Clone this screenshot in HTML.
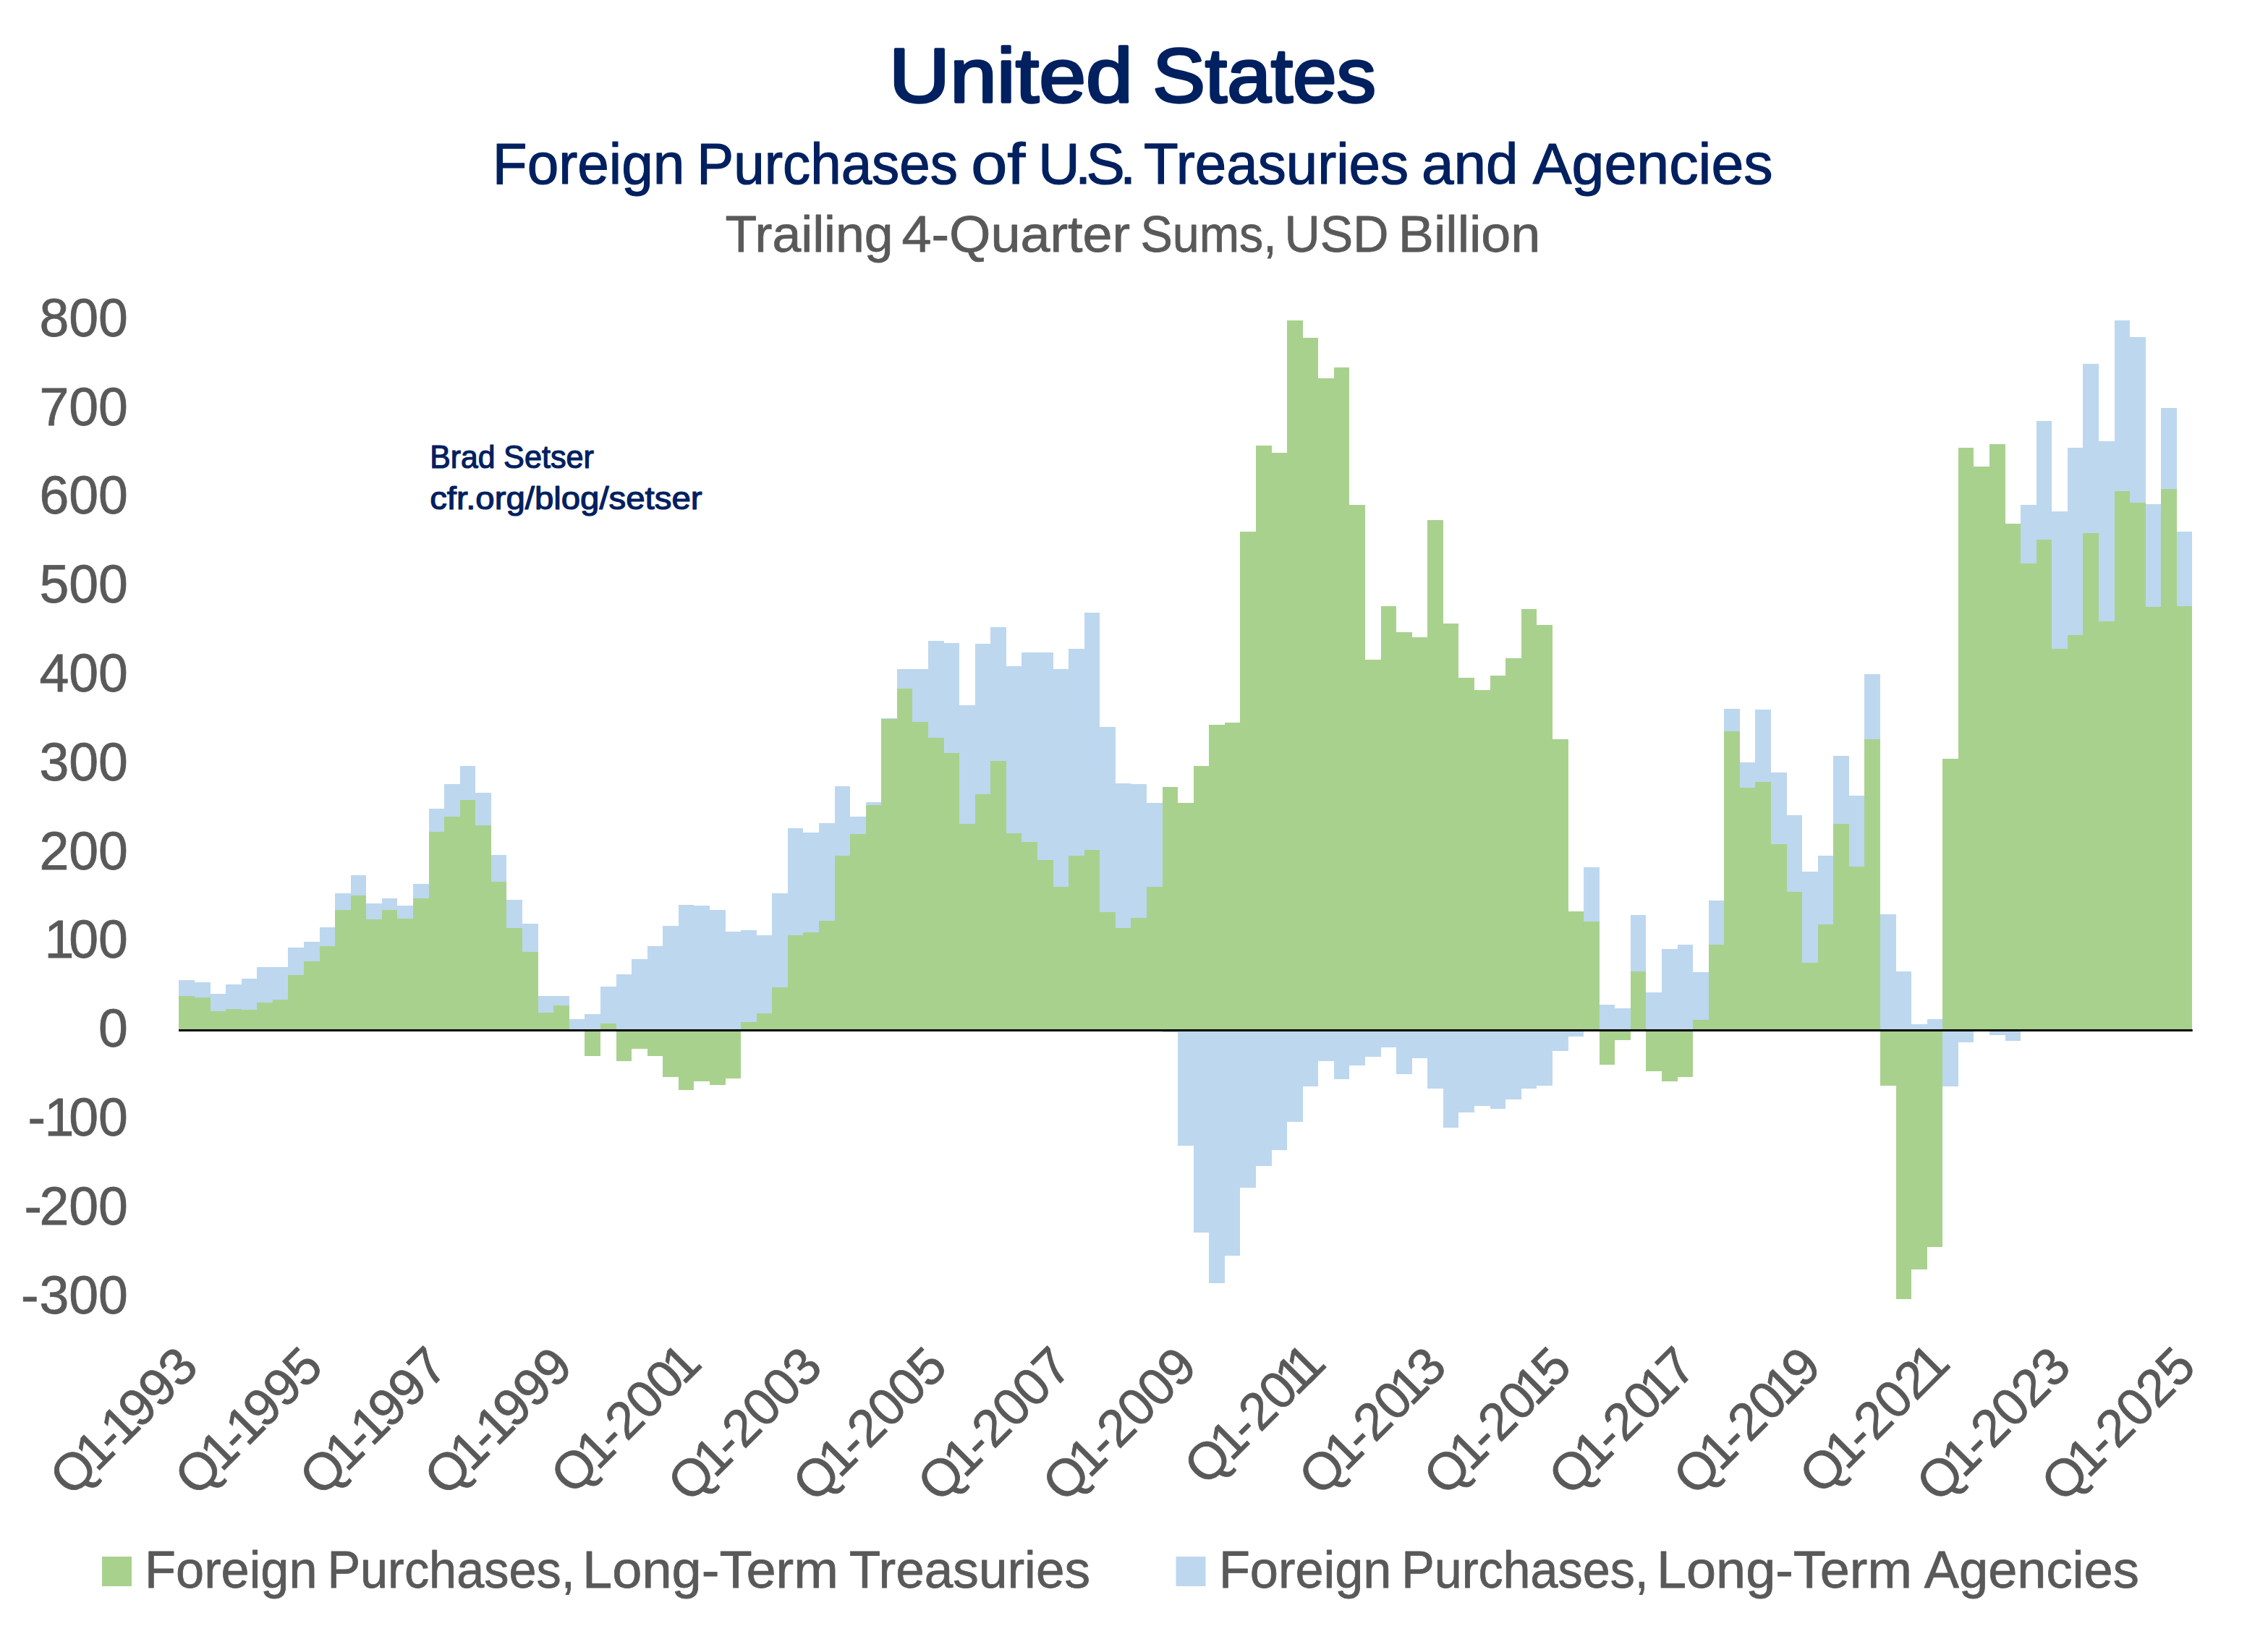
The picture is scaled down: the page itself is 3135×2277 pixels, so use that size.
<!DOCTYPE html>
<html lang="en"><head><meta charset="utf-8"><title>United States – Foreign Purchases of U.S. Treasuries and Agencies</title>
<style>html,body{margin:0;padding:0;background:#fff}body{width:3135px;height:2277px;overflow:hidden}svg{display:block}text{font-family:"Liberation Sans",Arial,sans-serif}</style></head><body>
<svg width="3135" height="2277" viewBox="0 0 3135 2277">
<rect width="3135" height="2277" fill="#fff"/>
<g fill="#A9D18E" shape-rendering="crispEdges">
<rect x="247" y="1376.9" width="22" height="47.6"/>
<rect x="269" y="1378.9" width="22" height="45.6"/>
<rect x="291" y="1397.9" width="21" height="26.6"/>
<rect x="312" y="1395" width="22" height="29.5"/>
<rect x="334" y="1395.9" width="21" height="28.6"/>
<rect x="355" y="1386" width="22" height="38.5"/>
<rect x="377" y="1381.8" width="21" height="42.7"/>
<rect x="398" y="1347.8" width="22" height="76.7"/>
<rect x="420" y="1328.9" width="22" height="95.6"/>
<rect x="442" y="1307.9" width="21" height="116.6"/>
<rect x="463" y="1257.9" width="22" height="166.6"/>
<rect x="485" y="1237.8" width="21" height="186.7"/>
<rect x="506" y="1270.9" width="22" height="153.6"/>
<rect x="528" y="1257.9" width="21" height="166.6"/>
<rect x="549" y="1270" width="22" height="154.5"/>
<rect x="571" y="1241.8" width="22" height="182.7"/>
<rect x="593" y="1149.7" width="21" height="274.8"/>
<rect x="614" y="1128.8" width="22" height="295.7"/>
<rect x="636" y="1106" width="21" height="318.5"/>
<rect x="657" y="1140.7" width="22" height="283.8"/>
<rect x="679" y="1218.9" width="21" height="205.6"/>
<rect x="700" y="1282.8" width="22" height="141.7"/>
<rect x="722" y="1315.8" width="22" height="108.7"/>
<rect x="744" y="1399.9" width="21" height="24.6"/>
<rect x="765" y="1389.9" width="22" height="34.6"/>
<rect x="808" y="1424.5" width="22" height="35.3"/>
<rect x="830" y="1415.2" width="22" height="9.3"/>
<rect x="852" y="1424.5" width="21" height="42.3"/>
<rect x="873" y="1424.5" width="22" height="25.4"/>
<rect x="895" y="1424.5" width="21" height="35.3"/>
<rect x="916" y="1424.5" width="22" height="64.4"/>
<rect x="938" y="1424.5" width="21" height="82.2"/>
<rect x="959" y="1424.5" width="22" height="70.4"/>
<rect x="981" y="1424.5" width="22" height="75.3"/>
<rect x="1003" y="1424.5" width="21" height="66.3"/>
<rect x="1024" y="1412.9" width="22" height="11.6"/>
<rect x="1046" y="1400.9" width="21" height="23.6"/>
<rect x="1067" y="1365" width="22" height="59.5"/>
<rect x="1089" y="1293.1" width="21" height="131.4"/>
<rect x="1110" y="1289" width="22" height="135.5"/>
<rect x="1132" y="1272.8" width="22" height="151.7"/>
<rect x="1154" y="1182.8" width="21" height="241.7"/>
<rect x="1175" y="1152.8" width="22" height="271.7"/>
<rect x="1197" y="1113.1" width="21" height="311.4"/>
<rect x="1218" y="993.8" width="22" height="430.7"/>
<rect x="1240" y="951.9" width="21" height="472.6"/>
<rect x="1261" y="997.9" width="22" height="426.6"/>
<rect x="1283" y="1020" width="22" height="404.5"/>
<rect x="1305" y="1041" width="21" height="383.5"/>
<rect x="1326" y="1138.8" width="22" height="285.7"/>
<rect x="1348" y="1097.9" width="21" height="326.6"/>
<rect x="1369" y="1051.9" width="22" height="372.6"/>
<rect x="1391" y="1151.9" width="21" height="272.6"/>
<rect x="1412" y="1164" width="22" height="260.5"/>
<rect x="1434" y="1189" width="22" height="235.5"/>
<rect x="1456" y="1225.9" width="21" height="198.6"/>
<rect x="1477" y="1182.8" width="22" height="241.7"/>
<rect x="1499" y="1174.7" width="21" height="249.8"/>
<rect x="1520" y="1260.7" width="22" height="163.8"/>
<rect x="1542" y="1282.7" width="21" height="141.8"/>
<rect x="1563" y="1268.9" width="22" height="155.6"/>
<rect x="1585" y="1225.9" width="22" height="198.6"/>
<rect x="1607" y="1087.9" width="21" height="336.6"/>
<rect x="1628" y="1109.8" width="22" height="314.7"/>
<rect x="1650" y="1059" width="21" height="365.5"/>
<rect x="1671" y="1002" width="22" height="422.5"/>
<rect x="1693" y="998.5" width="21" height="426"/>
<rect x="1714" y="735" width="22" height="689.5"/>
<rect x="1736" y="616" width="22" height="808.5"/>
<rect x="1758" y="626" width="21" height="798.5"/>
<rect x="1779" y="442.9" width="22" height="981.6"/>
<rect x="1801" y="466.9" width="21" height="957.6"/>
<rect x="1822" y="522.9" width="22" height="901.6"/>
<rect x="1844" y="507.9" width="21" height="916.6"/>
<rect x="1865" y="698.1" width="22" height="726.4"/>
<rect x="1887" y="911.9" width="22" height="512.6"/>
<rect x="1909" y="837.9" width="21" height="586.6"/>
<rect x="1930" y="874" width="22" height="550.5"/>
<rect x="1952" y="881" width="21" height="543.5"/>
<rect x="1973" y="719" width="22" height="705.5"/>
<rect x="1995" y="861.9" width="21" height="562.6"/>
<rect x="2016" y="936.9" width="22" height="487.6"/>
<rect x="2038" y="954" width="22" height="470.5"/>
<rect x="2060" y="934" width="21" height="490.5"/>
<rect x="2081" y="910" width="22" height="514.5"/>
<rect x="2103" y="841.9" width="21" height="582.6"/>
<rect x="2124" y="864" width="22" height="560.5"/>
<rect x="2146" y="1021.9" width="22" height="402.6"/>
<rect x="2168" y="1260" width="21" height="164.5"/>
<rect x="2189" y="1273.8" width="22" height="150.7"/>
<rect x="2211" y="1424.5" width="21" height="47.2"/>
<rect x="2232" y="1424.5" width="22" height="13.4"/>
<rect x="2254" y="1342.9" width="21" height="81.6"/>
<rect x="2275" y="1424.5" width="22" height="56.2"/>
<rect x="2297" y="1424.5" width="22" height="70.3"/>
<rect x="2319" y="1424.5" width="21" height="64.3"/>
<rect x="2340" y="1409.8" width="22" height="14.7"/>
<rect x="2362" y="1306" width="21" height="118.5"/>
<rect x="2383" y="1011" width="22" height="413.5"/>
<rect x="2405" y="1088.8" width="21" height="335.7"/>
<rect x="2426" y="1081" width="22" height="343.5"/>
<rect x="2448" y="1166.9" width="22" height="257.6"/>
<rect x="2470" y="1232.9" width="21" height="191.6"/>
<rect x="2491" y="1331" width="22" height="93.5"/>
<rect x="2513" y="1277.9" width="21" height="146.6"/>
<rect x="2534" y="1139" width="22" height="285.5"/>
<rect x="2556" y="1197.9" width="21" height="226.6"/>
<rect x="2577" y="1021.9" width="22" height="402.6"/>
<rect x="2599" y="1424.5" width="22" height="76.2"/>
<rect x="2621" y="1424.5" width="21" height="371.2"/>
<rect x="2642" y="1424.5" width="22" height="330.1"/>
<rect x="2664" y="1424.5" width="21" height="299.1"/>
<rect x="2685" y="1048.9" width="22" height="375.6"/>
<rect x="2707" y="619" width="21" height="805.5"/>
<rect x="2728" y="644.9" width="22" height="779.6"/>
<rect x="2750" y="614.1" width="22" height="810.4"/>
<rect x="2772" y="724" width="21" height="700.5"/>
<rect x="2793" y="778.9" width="22" height="645.6"/>
<rect x="2815" y="746" width="21" height="678.5"/>
<rect x="2836" y="896.8" width="22" height="527.7"/>
<rect x="2858" y="877.9" width="21" height="546.6"/>
<rect x="2879" y="737.1" width="22" height="687.4"/>
<rect x="2901" y="858.9" width="22" height="565.6"/>
<rect x="2923" y="679" width="21" height="745.5"/>
<rect x="2944" y="695" width="22" height="729.5"/>
<rect x="2966" y="838.8" width="21" height="585.7"/>
<rect x="2987" y="675.8" width="22" height="748.7"/>
<rect x="3009" y="837.8" width="21" height="586.7"/>
</g>
<g fill="#BDD7EE" shape-rendering="crispEdges">
<rect x="247" y="1354.9" width="22" height="22"/>
<rect x="269" y="1358" width="22" height="20.9"/>
<rect x="291" y="1374.1" width="21" height="23.8"/>
<rect x="312" y="1360.8" width="22" height="34.2"/>
<rect x="334" y="1352.9" width="21" height="43"/>
<rect x="355" y="1337" width="22" height="49"/>
<rect x="377" y="1337" width="21" height="44.8"/>
<rect x="398" y="1309.9" width="22" height="37.9"/>
<rect x="420" y="1302" width="22" height="26.9"/>
<rect x="442" y="1281.9" width="21" height="26"/>
<rect x="463" y="1235" width="22" height="22.9"/>
<rect x="485" y="1209.8" width="21" height="28"/>
<rect x="506" y="1248.9" width="22" height="22"/>
<rect x="528" y="1241.8" width="21" height="16.1"/>
<rect x="549" y="1251.9" width="22" height="18.1"/>
<rect x="571" y="1222" width="22" height="19.8"/>
<rect x="593" y="1117.9" width="21" height="31.8"/>
<rect x="614" y="1083.9" width="22" height="44.9"/>
<rect x="636" y="1058.9" width="21" height="47.1"/>
<rect x="657" y="1095.8" width="22" height="44.9"/>
<rect x="679" y="1182" width="21" height="36.9"/>
<rect x="700" y="1243.9" width="22" height="38.9"/>
<rect x="722" y="1277" width="22" height="38.8"/>
<rect x="744" y="1377" width="21" height="22.9"/>
<rect x="765" y="1377" width="22" height="12.9"/>
<rect x="787" y="1409.2" width="21" height="15.3"/>
<rect x="808" y="1402.1" width="22" height="22.4"/>
<rect x="830" y="1364" width="22" height="51.2"/>
<rect x="852" y="1347" width="21" height="77.5"/>
<rect x="873" y="1326.1" width="22" height="98.4"/>
<rect x="895" y="1308.2" width="21" height="116.3"/>
<rect x="916" y="1280" width="22" height="144.5"/>
<rect x="938" y="1251.1" width="21" height="173.4"/>
<rect x="959" y="1252.1" width="22" height="172.4"/>
<rect x="981" y="1257.9" width="22" height="166.6"/>
<rect x="1003" y="1288" width="21" height="136.5"/>
<rect x="1024" y="1286.1" width="22" height="126.8"/>
<rect x="1046" y="1293.4" width="21" height="107.5"/>
<rect x="1067" y="1235.4" width="22" height="129.6"/>
<rect x="1089" y="1145" width="21" height="148.1"/>
<rect x="1110" y="1150.9" width="22" height="138.1"/>
<rect x="1132" y="1137.8" width="22" height="135"/>
<rect x="1154" y="1087.1" width="21" height="95.7"/>
<rect x="1175" y="1129" width="22" height="23.8"/>
<rect x="1197" y="1109" width="21" height="4.1"/>
<rect x="1218" y="993.1" width="22" height="0.7"/>
<rect x="1240" y="925" width="21" height="26.9"/>
<rect x="1261" y="925" width="22" height="72.9"/>
<rect x="1283" y="886" width="22" height="134"/>
<rect x="1305" y="889" width="21" height="152"/>
<rect x="1326" y="975" width="22" height="163.8"/>
<rect x="1348" y="890" width="21" height="207.9"/>
<rect x="1369" y="866.9" width="22" height="185"/>
<rect x="1391" y="921" width="21" height="230.9"/>
<rect x="1412" y="901.9" width="22" height="262.1"/>
<rect x="1434" y="901.9" width="22" height="287.1"/>
<rect x="1456" y="925" width="21" height="300.9"/>
<rect x="1477" y="896.9" width="22" height="285.9"/>
<rect x="1499" y="846.9" width="21" height="327.8"/>
<rect x="1520" y="1005" width="22" height="255.7"/>
<rect x="1542" y="1083.1" width="21" height="199.6"/>
<rect x="1563" y="1084.2" width="22" height="184.7"/>
<rect x="1585" y="1109.9" width="22" height="116"/>
<rect x="1607" y="1424.5" width="21" height="2.5"/>
<rect x="1628" y="1424.5" width="22" height="159.3"/>
<rect x="1650" y="1424.5" width="21" height="279.3"/>
<rect x="1671" y="1424.5" width="22" height="349.3"/>
<rect x="1693" y="1424.5" width="21" height="311.2"/>
<rect x="1714" y="1424.5" width="22" height="217.2"/>
<rect x="1736" y="1424.5" width="22" height="187.4"/>
<rect x="1758" y="1424.5" width="21" height="165.3"/>
<rect x="1779" y="1424.5" width="22" height="126.2"/>
<rect x="1801" y="1424.5" width="21" height="77.2"/>
<rect x="1822" y="1424.5" width="22" height="42.4"/>
<rect x="1844" y="1424.5" width="21" height="67.2"/>
<rect x="1865" y="1424.5" width="22" height="48.4"/>
<rect x="1887" y="1424.5" width="22" height="36.2"/>
<rect x="1909" y="1424.5" width="21" height="23.4"/>
<rect x="1930" y="1424.5" width="22" height="60.3"/>
<rect x="1952" y="1424.5" width="21" height="38.4"/>
<rect x="1973" y="1424.5" width="22" height="80.3"/>
<rect x="1995" y="1424.5" width="21" height="134.3"/>
<rect x="2016" y="1424.5" width="22" height="113.4"/>
<rect x="2038" y="1424.5" width="22" height="104.3"/>
<rect x="2060" y="1424.5" width="21" height="108.4"/>
<rect x="2081" y="1424.5" width="22" height="95.3"/>
<rect x="2103" y="1424.5" width="21" height="80.3"/>
<rect x="2124" y="1424.5" width="22" height="76.2"/>
<rect x="2146" y="1424.5" width="22" height="28.4"/>
<rect x="2168" y="1424.5" width="21" height="8.4"/>
<rect x="2189" y="1199" width="22" height="74.8"/>
<rect x="2211" y="1389" width="21" height="35.5"/>
<rect x="2232" y="1394" width="22" height="30.5"/>
<rect x="2254" y="1265" width="21" height="77.9"/>
<rect x="2275" y="1371.9" width="22" height="52.6"/>
<rect x="2297" y="1311.9" width="22" height="112.6"/>
<rect x="2319" y="1306" width="21" height="118.5"/>
<rect x="2340" y="1344" width="22" height="65.8"/>
<rect x="2362" y="1245" width="21" height="61"/>
<rect x="2383" y="980" width="22" height="31"/>
<rect x="2405" y="1054" width="21" height="34.8"/>
<rect x="2426" y="981" width="22" height="100"/>
<rect x="2448" y="1067.9" width="22" height="99"/>
<rect x="2470" y="1126.9" width="21" height="106"/>
<rect x="2491" y="1205" width="22" height="126"/>
<rect x="2513" y="1183.1" width="21" height="94.8"/>
<rect x="2534" y="1045" width="22" height="94"/>
<rect x="2556" y="1100" width="21" height="97.9"/>
<rect x="2577" y="931.9" width="22" height="90"/>
<rect x="2599" y="1263.8" width="22" height="160.7"/>
<rect x="2621" y="1342.9" width="21" height="81.6"/>
<rect x="2642" y="1415.8" width="22" height="8.7"/>
<rect x="2664" y="1409.1" width="21" height="15.4"/>
<rect x="2685" y="1424.5" width="22" height="77"/>
<rect x="2707" y="1424.5" width="21" height="16.1"/>
<rect x="2750" y="1424.5" width="22" height="6.8"/>
<rect x="2772" y="1424.5" width="21" height="14"/>
<rect x="2793" y="698" width="22" height="80.9"/>
<rect x="2815" y="581.9" width="21" height="164.1"/>
<rect x="2836" y="706.9" width="22" height="189.9"/>
<rect x="2858" y="619" width="21" height="258.9"/>
<rect x="2879" y="503" width="22" height="234.1"/>
<rect x="2901" y="609.9" width="22" height="249"/>
<rect x="2923" y="443" width="21" height="236"/>
<rect x="2944" y="465.9" width="22" height="229.1"/>
<rect x="2966" y="696.9" width="21" height="141.9"/>
<rect x="2987" y="564" width="22" height="111.8"/>
<rect x="3009" y="735.1" width="21" height="102.7"/>
</g>
<rect x="247" y="1423" width="2783.7" height="3" fill="#000"/>
<text y="141.2" font-size="104.8" fill="#002060" stroke="#002060" stroke-width="3.4" stroke-linejoin="round"><tspan x="1228.7" textLength="337.3" lengthAdjust="spacingAndGlyphs">United</tspan> <tspan x="1593.2" textLength="308.9" lengthAdjust="spacingAndGlyphs">States</tspan></text>
<text y="254.1" font-size="79.9" fill="#002060" stroke="#002060" stroke-width="1.2" stroke-linejoin="round"><tspan x="680.8" textLength="265.5" lengthAdjust="spacingAndGlyphs">Foreign</tspan> <tspan x="963.3" textLength="360.6" lengthAdjust="spacingAndGlyphs">Purchases</tspan> <tspan x="1342.3" textLength="75.1" lengthAdjust="spacingAndGlyphs">of</tspan> <tspan x="1434.9" textLength="135.3" lengthAdjust="spacing">U.S.</tspan> <tspan x="1581" textLength="366.1" lengthAdjust="spacingAndGlyphs">Treasuries</tspan> <tspan x="1965" textLength="133.5" lengthAdjust="spacingAndGlyphs">and</tspan> <tspan x="2118.8" textLength="331.9" lengthAdjust="spacingAndGlyphs">Agencies</tspan></text>
<text y="348.2" font-size="70.5" fill="#595959" stroke="#595959" stroke-width="0.8" stroke-linejoin="round"><tspan x="1002.5" textLength="232.2" lengthAdjust="spacingAndGlyphs">Trailing</tspan> <tspan x="1246.4" textLength="315.8" lengthAdjust="spacingAndGlyphs">4-Quarter</tspan> <tspan x="1576.5" textLength="188.3" lengthAdjust="spacingAndGlyphs">Sums,</tspan> <tspan x="1775.6" textLength="143.8" lengthAdjust="spacingAndGlyphs">USD</tspan> <tspan x="1932.8" textLength="196.5" lengthAdjust="spacingAndGlyphs">Billion</tspan></text>
<text y="646.6" font-size="43.9" fill="#002060" stroke="#002060" stroke-width="1.2" stroke-linejoin="round"><tspan x="594.2" textLength="90.3" lengthAdjust="spacingAndGlyphs">Brad</tspan> <tspan x="696.1" textLength="124.9" lengthAdjust="spacingAndGlyphs">Setser</tspan></text>
<text y="703.5" font-size="43.9" fill="#002060" stroke="#002060" stroke-width="1.2" stroke-linejoin="round"><tspan x="594.2" textLength="376.3" lengthAdjust="spacingAndGlyphs">cfr.org/blog/setser</tspan></text>
<text x="54.4 95.2 136.1" y="464.8" font-size="73.5" fill="#595959" stroke="#595959" stroke-width="0.8">800</text>
<text x="54.4 95.2 136.1" y="587.6" font-size="73.5" fill="#595959" stroke="#595959" stroke-width="0.8">700</text>
<text x="54.4 95.2 136.1" y="710.4" font-size="73.5" fill="#595959" stroke="#595959" stroke-width="0.8">600</text>
<text x="54.4 95.2 136.1" y="833.1" font-size="73.5" fill="#595959" stroke="#595959" stroke-width="0.8">500</text>
<text x="54.4 95.2 136.1" y="955.9" font-size="73.5" fill="#595959" stroke="#595959" stroke-width="0.8">400</text>
<text x="54.4 95.2 136.1" y="1078.7" font-size="73.5" fill="#595959" stroke="#595959" stroke-width="0.8">300</text>
<text x="54.4 95.2 136.1" y="1201.5" font-size="73.5" fill="#595959" stroke="#595959" stroke-width="0.8">200</text>
<text x="61.4 95.2 136.1" y="1324.3" font-size="73.5" fill="#595959" stroke="#595959" stroke-width="0.8">100</text>
<text x="136.1" y="1447.1" font-size="73.5" fill="#595959" stroke="#595959" stroke-width="0.8">0</text>
<text x="38.5 61.4 95.2 136.1" y="1569.9" font-size="73.5" fill="#595959" stroke="#595959" stroke-width="0.8">-100</text>
<text x="33.4 54.4 95.2 136.1" y="1692.7" font-size="73.5" fill="#595959" stroke="#595959" stroke-width="0.8">-200</text>
<text x="29 54.4 95.2 136.1" y="1815.5" font-size="73.5" fill="#595959" stroke="#595959" stroke-width="0.8">-300</text>
<text transform="translate(277,1893) rotate(-45)" text-anchor="end" font-size="72" fill="#595959" stroke="#595959" stroke-width="0.8" dx="0 -7 -6 -8 -6 -0.8 -0.8">Q1-1993</text>
<text transform="translate(449.6,1893) rotate(-45)" text-anchor="end" font-size="72" fill="#595959" stroke="#595959" stroke-width="0.8" dx="0 -7 -6 -8 -6 -0.8 -0.8">Q1-1995</text>
<text transform="translate(622.2,1893) rotate(-45)" text-anchor="end" font-size="72" fill="#595959" stroke="#595959" stroke-width="0.8" dx="0 -7 -6 -8 -6 -0.8 -0.8">Q1-1997</text>
<text transform="translate(794.8,1893) rotate(-45)" text-anchor="end" font-size="72" fill="#595959" stroke="#595959" stroke-width="0.8" dx="0 -7 -6 -8 -6 -0.8 -0.8">Q1-1999</text>
<text transform="translate(972.7,1887.6) rotate(-45)" text-anchor="end" font-size="72" fill="#595959" stroke="#595959" stroke-width="0.8" dx="0 -7 -6 -1 -0.8 -0.8 -8.5">Q1-2001</text>
<text transform="translate(1139.9,1893) rotate(-45)" text-anchor="end" font-size="72" fill="#595959" stroke="#595959" stroke-width="0.8" dx="0 -7 -6 -1 -0.8 -0.8 -0.8">Q1-2003</text>
<text transform="translate(1312.5,1893) rotate(-45)" text-anchor="end" font-size="72" fill="#595959" stroke="#595959" stroke-width="0.8" dx="0 -7 -6 -1 -0.8 -0.8 -0.8">Q1-2005</text>
<text transform="translate(1485.1,1893) rotate(-45)" text-anchor="end" font-size="72" fill="#595959" stroke="#595959" stroke-width="0.8" dx="0 -7 -6 -1 -0.8 -0.8 -0.8">Q1-2007</text>
<text transform="translate(1657.7,1893) rotate(-45)" text-anchor="end" font-size="72" fill="#595959" stroke="#595959" stroke-width="0.8" dx="0 -7 -6 -1 -0.8 -0.8 -0.8">Q1-2009</text>
<text transform="translate(1835.7,1887.6) rotate(-45)" text-anchor="end" font-size="72" fill="#595959" stroke="#595959" stroke-width="0.8" dx="0 -7 -6 -1 -0.8 -8.5 -13">Q1-2011</text>
<text transform="translate(2002.9,1893) rotate(-45)" text-anchor="end" font-size="72" fill="#595959" stroke="#595959" stroke-width="0.8" dx="0 -7 -6 -1 -0.8 -8.5 -6">Q1-2013</text>
<text transform="translate(2175.5,1893) rotate(-45)" text-anchor="end" font-size="72" fill="#595959" stroke="#595959" stroke-width="0.8" dx="0 -7 -6 -1 -0.8 -8.5 -6">Q1-2015</text>
<text transform="translate(2348.1,1893) rotate(-45)" text-anchor="end" font-size="72" fill="#595959" stroke="#595959" stroke-width="0.8" dx="0 -7 -6 -1 -0.8 -8.5 -6">Q1-2017</text>
<text transform="translate(2520.6,1893) rotate(-45)" text-anchor="end" font-size="72" fill="#595959" stroke="#595959" stroke-width="0.8" dx="0 -7 -6 -1 -0.8 -8.5 -6">Q1-2019</text>
<text transform="translate(2698.6,1887.6) rotate(-45)" text-anchor="end" font-size="72" fill="#595959" stroke="#595959" stroke-width="0.8" dx="0 -7 -6 -1 -0.8 -0.8 -8.5">Q1-2021</text>
<text transform="translate(2865.8,1893) rotate(-45)" text-anchor="end" font-size="72" fill="#595959" stroke="#595959" stroke-width="0.8" dx="0 -7 -6 -1 -0.8 -0.8 -0.8">Q1-2023</text>
<text transform="translate(3038.4,1893) rotate(-45)" text-anchor="end" font-size="72" fill="#595959" stroke="#595959" stroke-width="0.8" dx="0 -7 -6 -1 -0.8 -0.8 -0.8">Q1-2025</text>
<rect x="141" y="2152" width="41" height="41" fill="#A9D18E"/>
<text y="2194.7" font-size="72.6" fill="#595959" stroke="#595959" stroke-width="0.8" stroke-linejoin="round"><tspan x="200.1" textLength="238.5" lengthAdjust="spacingAndGlyphs">Foreign</tspan> <tspan x="452.4" textLength="342.4" lengthAdjust="spacingAndGlyphs">Purchases,</tspan> <tspan x="805.1" textLength="353.8" lengthAdjust="spacingAndGlyphs">Long-Term</tspan> <tspan x="1173.8" textLength="333.2" lengthAdjust="spacingAndGlyphs">Treasuries</tspan></text>
<rect x="1625.5" y="2152" width="41" height="41" fill="#BDD7EE"/>
<text y="2194.7" font-size="72.6" fill="#595959" stroke="#595959" stroke-width="0.8" stroke-linejoin="round"><tspan x="1684.9" textLength="238.5" lengthAdjust="spacingAndGlyphs">Foreign</tspan> <tspan x="1937.2" textLength="341.6" lengthAdjust="spacingAndGlyphs">Purchases,</tspan> <tspan x="2290" textLength="352.9" lengthAdjust="spacingAndGlyphs">Long-Term</tspan> <tspan x="2659.8" textLength="297.1" lengthAdjust="spacingAndGlyphs">Agencies</tspan></text>
</svg></body></html>
